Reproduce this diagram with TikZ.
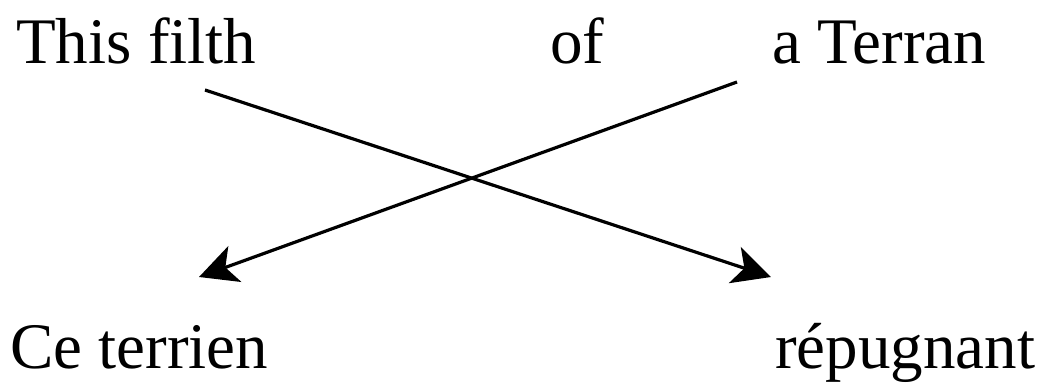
\documentclass[tikz,border=0pt]{standalone}
\usepackage{fontspec}
\setmainfont{Liberation Serif}
\usetikzlibrary{arrows.meta}

\begin{document}
\begin{tikzpicture}[x=1pt,y=-1pt]
      \tikzstyle{word}=[anchor=base west,inner sep=0pt,font=\fontsize{65}{78}\selectfont]
      \tikzstyle{link}=[line width=3.2pt,-{Stealth[length=38pt,width=38pt,inset=10pt]}]
      \useasboundingbox (0,0) rectangle (1047,387);
      \node[word] (W_1) at (16,64)   {This filth};
      \node[word] (W_2) at (550,64)  {of};
      \node[word] (W_3) at (772,64)  {a Terran};
      \node[word] (T_1) at (10,368)  {Ce terrien};
      \node[word] (T_2) at (775,368) {répugnant};
      \coordinate (A_1) at (205,90);
      \coordinate (B_1) at (771,277);
      \coordinate (A_2) at (737,82);
      \coordinate (B_2) at (199,277);
      \draw[link] (A_1) -- (B_1);
      \draw[link] (A_2) -- (B_2);
    \end{tikzpicture}
\end{document}
